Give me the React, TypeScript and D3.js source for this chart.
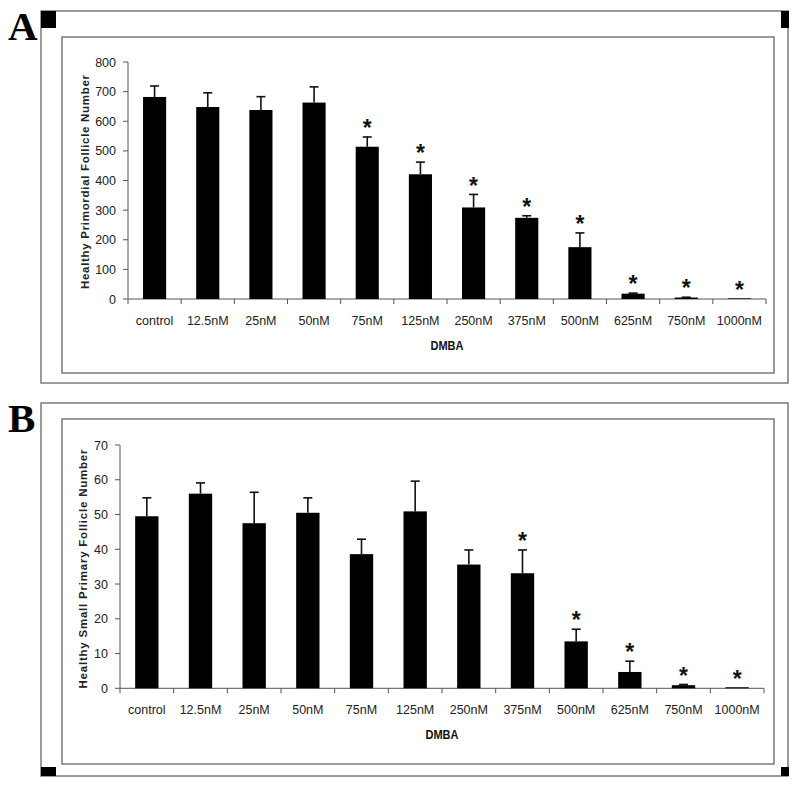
import React from "react";
import * as d3 from "d3";

const categories = ["control", "12.5nM", "25nM", "50nM", "75nM", "125nM", "250nM", "375nM", "500nM", "625nM", "750nM", "1000nM"];

const primordialMean = [682, 648, 638, 663, 514, 421, 309, 274, 175, 18, 5, 2];
const primordialErr = [37, 48, 45, 53, 33, 41, 44, 7, 48, 2, 1, 0];
const primordialSig = [false, false, false, false, true, true, true, true, true, true, true, true];
const primordialTicks = [0, 100, 200, 300, 400, 500, 600, 700, 800];

const smallPrimaryMean = [49.5, 56.0, 47.5, 50.5, 38.6, 50.9, 35.6, 33.1, 13.5, 4.7, 0.9, 0.3];
const smallPrimaryErr = [5.3, 3.1, 8.9, 4.3, 4.3, 8.7, 4.2, 6.7, 3.5, 3.1, 0.2, 0];
const smallPrimarySig = [false, false, false, false, false, false, false, true, true, true, true, true];
const smallPrimaryTicks = [0, 10, 20, 30, 40, 50, 60, 70];

const xTitle = "DMBA";
const titleA = "Healthy Primordial Follicle Number";
const titleB = "Healthy Small Primary Follicle Number";

const SANS = "'Liberation Sans', Arial, Helvetica, sans-serif";
const SERIF = "'Liberation Serif', 'Times New Roman', serif";

type PanelProps = {
  letter: string;
  letterY: number;
  outer: [number, number, number, number];
  inner: [number, number, number, number];
  xRange: [number, number];
  yRange: [number, number];
  yMax: number;
  ticks: number[];
  means: number[];
  errs: number[];
  sig: boolean[];
  title: string;
  titleX: number;
  titleY: number;
  titleLen: number;
  squares: "top" | "bottom";
};

function Panel(p: PanelProps) {
  const x = d3.scaleBand<string>().domain(categories).range(p.xRange).paddingInner(0.565).paddingOuter(0.2825);
  const y = d3.scaleLinear().domain([0, p.yMax]).range(p.yRange);
  const step = x.step();
  const gap = (step - x.bandwidth()) / 2;
  const edges = categories.map((c) => (x(c) as number) - gap).concat([p.xRange[1]]);
  const [ox0, oy0, ox1, oy1] = p.outer;
  const [ix0, iy0, ix1, iy1] = p.inner;
  const y0 = p.yRange[0];
  const labelY = y0 + 25.5;
  const titleXY = y0 + 51;
  const sqY = p.squares === "top" ? oy0 : oy1 - 9;
  const sqH = p.squares === "top" ? 17 : 9;
  return (
    <g>
      <text x={8} y={p.letterY} fontFamily={SERIF} fontWeight="bold" fontSize={41} fill="#000">{p.letter}</text>
      <rect x={ox0} y={oy0} width={ox1 - ox0} height={oy1 - oy0} fill="#fff" stroke="#7a7a7a" strokeWidth={1.5} />
      <rect x={ox0} y={sqY} width={15} height={sqH} fill="#000" />
      <rect x={ox1 - 7} y={sqY} width={8} height={sqH} fill="#000" />
      <rect x={ix0} y={iy0} width={ix1 - ix0} height={iy1 - iy0} fill="#fff" stroke="#7a7a7a" strokeWidth={1.5} />
      {/* y axis */}
      <line x1={p.xRange[0]} x2={p.xRange[0]} y1={y(p.yMax)} y2={y0} stroke="#555" strokeWidth={1} />
      {p.ticks.map((t) => (
        <g key={t}>
          <line x1={p.xRange[0] - 5} x2={p.xRange[0]} y1={y(t)} y2={y(t)} stroke="#555" strokeWidth={1} />
          <text x={p.xRange[0] - 12} y={y(t)} dy="0.36em" textAnchor="end" fontFamily={SANS} fontSize={12.5} fill="#222">{t}</text>
        </g>
      ))}
      {/* x axis */}
      <line x1={p.xRange[0]} x2={p.xRange[1]} y1={y0} y2={y0} stroke="#555" strokeWidth={1} />
      {edges.map((e, i) => (
        <line key={i} x1={e} x2={e} y1={y0} y2={y0 + 5} stroke="#555" strokeWidth={1} />
      ))}
      {categories.map((c) => (
        <text key={c} x={(x(c) as number) + x.bandwidth() / 2} y={labelY} textAnchor="middle" fontFamily={SANS} fontSize={12.5} fill="#222">{c}</text>
      ))}
      <text x={(p.xRange[0] + p.xRange[1]) / 2} y={titleXY} textAnchor="middle" fontFamily={SANS} fontWeight="bold" fontSize={12.5} textLength={33} lengthAdjust="spacingAndGlyphs" fill="#111">{xTitle}</text>
      <text transform={`translate(${p.titleX},${p.titleY}) rotate(-90)`} textAnchor="middle" fontFamily={SANS} fontWeight="bold" fontSize={11.5} textLength={p.titleLen} lengthAdjust="spacing" fill="#222">{p.title}</text>
      {/* bars */}
      {categories.map((c, i) => {
        const bx = x(c) as number;
        const cx = bx + x.bandwidth() / 2;
        const top = y(p.means[i]);
        const et = y(p.means[i] + p.errs[i]);
        return (
          <g key={c}>
            <rect x={bx} y={top} width={x.bandwidth()} height={y0 - top} fill="#000" />
            {p.errs[i] > 0 && (
              <g stroke="#111" strokeWidth={1.6}>
                <line x1={cx} x2={cx} y1={top} y2={et} />
                <line x1={cx - 4.5} x2={cx + 4.5} y1={et} y2={et} />
              </g>
            )}
            {p.sig[i] && (
              <text x={cx} y={et - 15} dy="0.62em" textAnchor="middle" fontFamily={SANS} fontWeight="bold" fontSize={23} fill="#111">*</text>
            )}
          </g>
        );
      })}
    </g>
  );
}

export default function App() {
  return (
    <svg width={800} height={786} style={{ position: "absolute", left: 0, top: 0, background: "#fff" }}>
      <rect width={800} height={786} fill="#fff" />
      <Panel
        letter="A"
        letterY={40}
        outer={[41, 11, 788, 383]}
        inner={[62, 37, 774, 373]}
        xRange={[128, 766]}
        yRange={[299, 62]}
        yMax={800}
        ticks={primordialTicks}
        means={primordialMean}
        errs={primordialErr}
        sig={primordialSig}
        title={titleA}
        titleX={89}
        titleY={182}
        titleLen={214}
        squares="top"
      />
      <Panel
        letter="B"
        letterY={432}
        outer={[41, 403, 788, 776]}
        inner={[62, 419, 774, 764]}
        xRange={[120, 764]}
        yRange={[688.3, 445]}
        yMax={70}
        ticks={smallPrimaryTicks}
        means={smallPrimaryMean}
        errs={smallPrimaryErr}
        sig={smallPrimarySig}
        title={titleB}
        titleX={87}
        titleY={569}
        titleLen={239}
        squares="bottom"
      />
    </svg>
  );
}
